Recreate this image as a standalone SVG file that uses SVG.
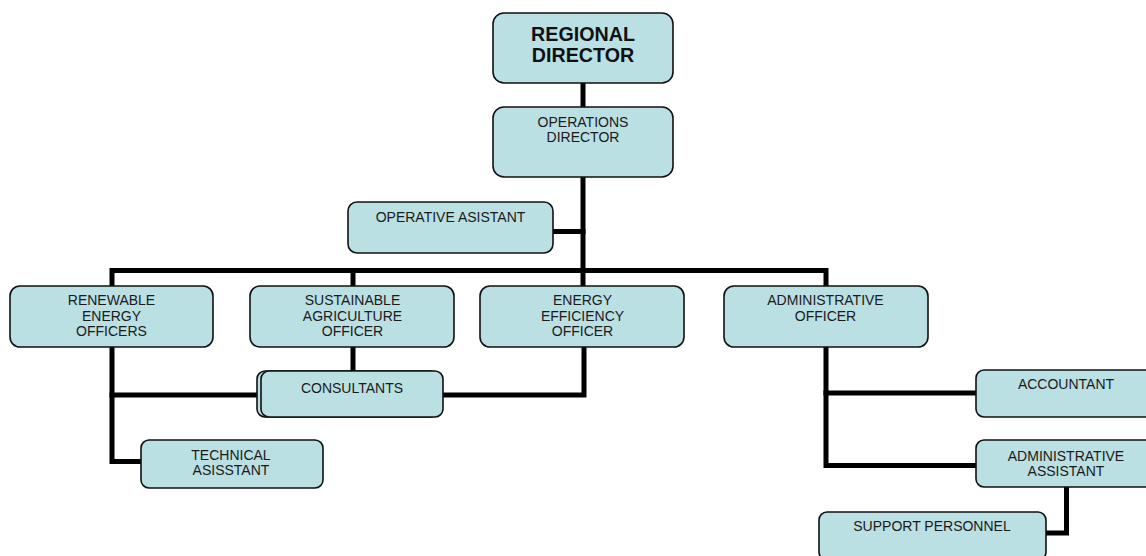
<svg xmlns="http://www.w3.org/2000/svg" width="1146" height="556" viewBox="0 0 1146 556">
<style>
.box{fill:#BAE0E3;stroke:#111;stroke-width:1.6}
.t{font-family:"Liberation Sans",Arial,sans-serif;font-size:14px;fill:#1a1a1a;text-anchor:middle}
.b{font-family:"Liberation Sans",Arial,sans-serif;font-size:19.7px;font-weight:bold;fill:#111;text-anchor:middle}
.c{fill:none;stroke:#000;stroke-width:5;stroke-linejoin:miter;stroke-linecap:square}
</style>
<rect width="1146" height="556" fill="#fff"/>
<g id="connectors">
<path class="c" d="M583 84V106"/>
<path class="c" d="M583 178V285"/>
<path class="c" d="M554 231.5H583"/>
<path class="c" d="M112 285V270.5H826V285"/>
<path class="c" d="M353 270.5V285"/>
<path class="c" d="M112 348V461.5H140"/>
<path class="c" d="M112 395H256"/>
<path class="c" d="M353 348V370"/>
<path class="c" d="M584 348V395H444"/>
<path class="c" d="M826 348V465.5H975"/>
<path class="c" d="M826 393H975"/>
<path class="c" d="M1066.5 488V533H1047"/>
</g>
<g id="regional-director">
<rect class="box" x="493" y="13" width="180" height="70" rx="11"/>
<text class="b" x="583" y="40.5">REGIONAL</text>
<text class="b" x="583" y="61.5">DIRECTOR</text>
</g>
<g id="operations-director">
<rect class="box" x="493" y="107" width="180" height="70" rx="11"/>
<text class="t" x="583" y="127">OPERATIONS</text>
<text class="t" x="583" y="142">DIRECTOR</text>
</g>
<g id="operative-asistant">
<rect class="box" x="348" y="202" width="205" height="51" rx="9"/>
<text class="t" x="450.5" y="222">OPERATIVE ASISTANT</text>
</g>
<g id="renewable-energy-officers">
<rect class="box" x="10" y="286" width="203" height="61" rx="10"/>
<text class="t" x="111.5" y="305">RENEWABLE</text>
<text class="t" x="111.5" y="320.5">ENERGY</text>
<text class="t" x="111.5" y="336">OFFICERS</text>
</g>
<g id="sustainable-agriculture-officer">
<rect class="box" x="250" y="286" width="204" height="61" rx="10"/>
<text class="t" x="352.5" y="305">SUSTAINABLE</text>
<text class="t" x="352.5" y="320.5">AGRICULTURE</text>
<text class="t" x="352.5" y="336">OFFICER</text>
</g>
<g id="energy-efficiency-officer">
<rect class="box" x="480" y="286" width="204" height="61" rx="10"/>
<text class="t" x="582.5" y="305">ENERGY</text>
<text class="t" x="582.5" y="320.5">EFFICIENCY</text>
<text class="t" x="582.5" y="336">OFFICER</text>
</g>
<g id="administrative-officer">
<rect class="box" x="724" y="286" width="204" height="61" rx="10"/>
<text class="t" x="825.5" y="305">ADMINISTRATIVE</text>
<text class="t" x="825.5" y="320.5">OFFICER</text>
</g>
<g id="consultants">
<rect class="box" x="257" y="371" width="182" height="46" rx="8"/>
<rect class="box" x="261" y="371" width="182" height="46" rx="8"/>
<text class="t" x="352" y="392.5">CONSULTANTS</text>
</g>
<g id="technical-asisstant">
<rect class="box" x="141" y="440" width="182" height="48" rx="8"/>
<text class="t" x="231" y="459.5">TECHNICAL</text>
<text class="t" x="231" y="475">ASISSTANT</text>
</g>
<g id="accountant">
<rect class="box" x="976" y="370" width="182" height="47" rx="8"/>
<text class="t" x="1066" y="388.5">ACCOUNTANT</text>
</g>
<g id="administrative-assistant">
<rect class="box" x="976" y="440" width="182" height="47" rx="8"/>
<text class="t" x="1066" y="460.5">ADMINISTRATIVE</text>
<text class="t" x="1066" y="475.5">ASSISTANT</text>
</g>
<g id="support-personnel">
<rect class="box" x="819" y="512" width="227" height="48" rx="8"/>
<text class="t" x="932" y="531">SUPPORT PERSONNEL</text>
</g>
</svg>
